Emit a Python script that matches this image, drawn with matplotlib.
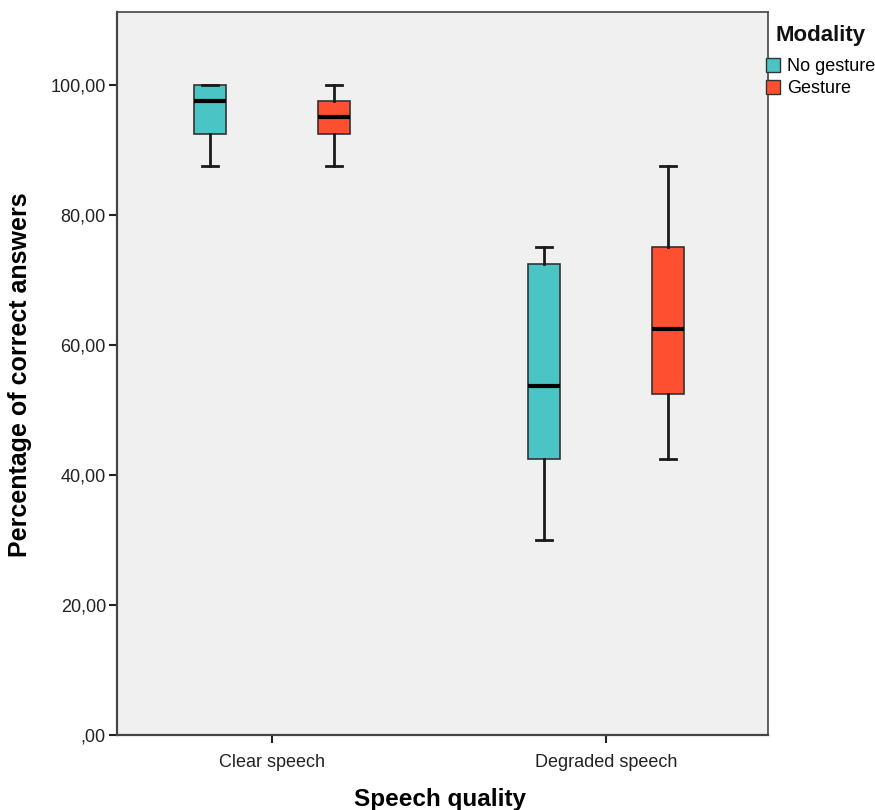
import matplotlib
matplotlib.use("Agg")
import matplotlib.pyplot as plt
from matplotlib.patches import Patch
from matplotlib.ticker import FuncFormatter

categories = ["Clear speech", "Degraded speech"]
groups = ["No gesture", "Gesture"]
colors = ["#4BC4C6", "#FE5030"]

# per group: values for [Clear, Degraded]
whislo = {"No gesture": [87.5, 30.0], "Gesture": [87.5, 42.5]}
q1 = {"No gesture": [92.5, 42.5], "Gesture": [92.5, 52.5]}
med = {"No gesture": [97.5, 53.75], "Gesture": [95.0, 62.5]}
q3 = {"No gesture": [100.0, 72.5], "Gesture": [97.5, 75.0]}
whishi = {"No gesture": [100.0, 75.0], "Gesture": [100.0, 87.5]}

yticks = [0, 20, 40, 60, 80, 100]

plt.rcParams['font.family'] = ['Liberation Sans', 'DejaVu Sans']

fig = plt.figure(figsize=(8.75, 8.1), dpi=100)
ax = fig.add_axes([117/875, 75/810, 651/875, 723/810])
ax.set_facecolor("#F0F0F0")

offset = 0.186
width = 0.096
for gi, g in enumerate(groups):
    stats = []
    for ci, c in enumerate(categories):
        stats.append(dict(whislo=whislo[g][ci], q1=q1[g][ci], med=med[g][ci],
                          q3=q3[g][ci], whishi=whishi[g][ci], fliers=[]))
    pos = [ci + (offset if gi == 1 else -offset) for ci in range(len(categories))]
    ax.bxp(stats, positions=pos, widths=width, patch_artist=True, showfliers=False,
           boxprops=dict(facecolor=colors[gi], edgecolor="#333333", linewidth=1.2),
           medianprops=dict(color="black", linewidth=3),
           whiskerprops=dict(color="#1a1a1a", linewidth=2),
           capprops=dict(color="#1a1a1a", linewidth=2),
           capwidths=width/2, manage_ticks=False)

ax.set_xlim(-0.464, 1.485)
ax.set_ylim(0, 111.2)
ax.set_xticks(range(len(categories)))
ax.set_xticklabels(categories, fontsize=13, color="#222222")
ax.set_yticks(yticks)
ax.yaxis.set_major_formatter(FuncFormatter(lambda v, p: ("%d,00" % v) if v != 0 else ",00"))
ax.tick_params(axis='y', labelsize=13, length=6, width=1.5, colors="#222222", pad=2)
ax.tick_params(axis='x', length=6, width=1.5, colors="#222222", pad=8)
for s in ax.spines.values():
    s.set_color("#444444")
    s.set_linewidth(1.2)
ax.spines['left'].set_linewidth(1.6)
ax.spines['bottom'].set_linewidth(1.6)

ax.set_xlabel("Speech quality", fontsize=17.5, fontweight="bold")
ax.xaxis.set_label_coords((354 + 525) / 2 / 651 - 117 / 651, (735 - 788) / 723)
ax.set_ylabel("Percentage of correct answers", fontsize=18, fontweight="bold")
ax.yaxis.set_label_coords((32 - 117) / 651, (735 - 375) / 723)

fig.text(821/875, 1 - 35/810, "Modality", fontsize=16, fontweight="bold",
         ha="center", va="center", color="#111111")
handles = [Patch(facecolor=colors[i], edgecolor="#333333", label=g) for i, g in enumerate(groups)]
leg = fig.legend(handles=handles, loc="upper left",
                 bbox_to_anchor=(766/875, 1 - 58/810), frameon=False, fontsize=13,
                 handlelength=0.8, handleheight=0.8, handletextpad=0.35,
                 labelspacing=0.25, borderaxespad=0, borderpad=0)

fig.savefig("out.png", dpi=100)
